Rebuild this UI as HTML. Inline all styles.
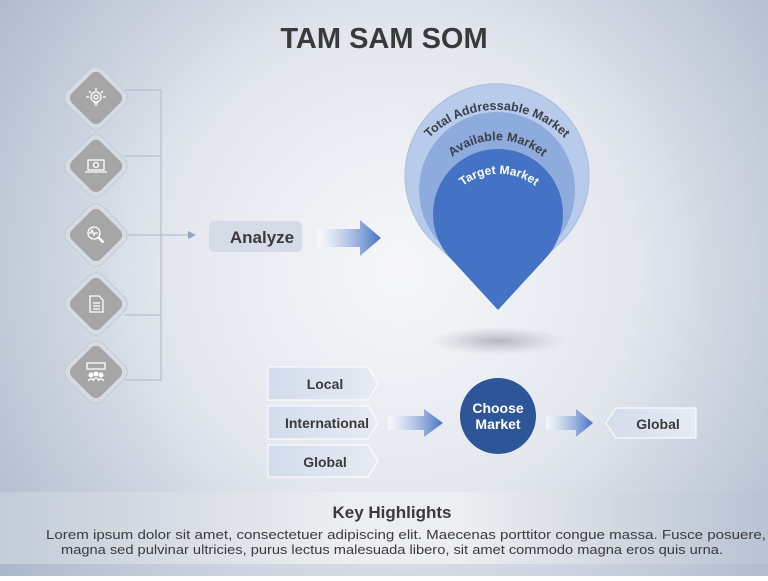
<!DOCTYPE html>
<html><head><meta charset="utf-8"><style>
html,body{margin:0;padding:0}
body{width:768px;height:576px;overflow:hidden;font-family:"Liberation Sans",sans-serif}
</style></head><body>
<svg width="768" height="576" viewBox="0 0 768 576" xmlns="http://www.w3.org/2000/svg" font-family="Liberation Sans, sans-serif">
<defs>
<radialGradient id="bg" cx="400" cy="270" r="520" gradientUnits="userSpaceOnUse">
<stop offset="0" stop-color="#f6f7f9"/><stop offset="0.45" stop-color="#e3e7ee"/><stop offset="1" stop-color="#a8b4c8"/>
</radialGradient>
<linearGradient id="band" x1="0" x2="1" y1="0" y2="0">
<stop offset="0" stop-color="#c3ccd9"/><stop offset="0.45" stop-color="#eceef1"/><stop offset="0.6" stop-color="#eceef1"/><stop offset="1" stop-color="#b9c3d3"/>
</linearGradient>
<linearGradient id="arr" x1="0" x2="1"><stop offset="0" stop-color="#ffffff" stop-opacity="0.6"/><stop offset="1" stop-color="#4472c4"/></linearGradient>
<linearGradient id="tag" x1="0" x2="1"><stop offset="0" stop-color="#d3dcec"/><stop offset="1" stop-color="#e6ebf3"/></linearGradient>
<radialGradient id="sh"><stop offset="0" stop-color="#9aa0a8" stop-opacity="0.7"/><stop offset="1" stop-color="#b0b5bb" stop-opacity="0"/></radialGradient>
<path id="p1" d="M418,152 A95,95 0 0 1 576,152"/>
<path id="p2" d="M445,164 A70,70 0 0 1 550,164"/>
<path id="p3" d="M455,193 A60,60 0 0 1 543,193"/>
<g id="dia">
<rect x="-25" y="-25" width="50" height="50" rx="10" transform="rotate(45)" fill="#d6dce5" stroke="#c2cad6" stroke-width="1"/>
<rect x="-20.5" y="-20.5" width="41" height="41" rx="7" transform="rotate(45)" fill="#a6a6a6"/>
</g>
</defs>
<rect width="768" height="576" fill="url(#bg)"/>
<rect x="0" y="492" width="768" height="72" fill="url(#band)"/>
<text x="384" y="48" text-anchor="middle" font-size="29" font-weight="bold" fill="#3a3a3a">TAM SAM SOM</text>

<g stroke="#b4bfd0" stroke-width="1.2" fill="none">
<path d="M125,90 H161 V380 H125"/>
<path d="M125,156 H161"/><path d="M125,315 H161"/>
<path d="M125,235 H190"/>
</g>
<path d="M188,231 L196,235 L188,239 Z" fill="#8fa3c2"/>
<use href="#dia" x="96" y="98"/>
<use href="#dia" x="96" y="166"/>
<use href="#dia" x="96" y="235"/>
<use href="#dia" x="96" y="304"/>
<use href="#dia" x="96" y="372"/>
<g stroke="#fff" stroke-width="1.3" fill="none">
<circle cx="96" cy="97" r="5"/><circle cx="96" cy="97" r="2"/><path d="M94,103 h4 M94.5,105 h3 M86,97 h3 M103,97 h3 M96,88 v3 M89,91 l2,2 M103,91 l-2,2"/>
<rect x="88" y="160" width="16" height="10"/><path d="M85,172 h22"/><circle cx="96" cy="165" r="2.5"/>
<circle cx="94" cy="233" r="6"/><path d="M98.5,237.5 l5,5" stroke-width="2.5"/><path d="M89,233 h2 l1,-3 l2,5 l1,-2 h3"/>
<path d="M90,296 h9 l4,4 v12 h-13 z M93,303 h7 M93,306 h7 M93,309 h7"/>
<rect x="87" y="363" width="18" height="6"/><circle cx="91" cy="375" r="1.8" fill="#fff"/><circle cx="96" cy="374" r="1.8" fill="#fff"/><circle cx="101" cy="375" r="1.8" fill="#fff"/><path d="M88,381 q3,-4 6,0 M93,380 q3,-4 6,0 M98,381 q3,-4 6,0"/>
</g>

<rect x="209" y="221" width="93" height="31" rx="5" fill="#d5dce8"/>
<text x="262" y="243" text-anchor="middle" font-size="17" font-weight="bold" fill="#3a3a3a">Analyze</text>
<path d="M317,229 H360 V220 L381,238 L360,256 V247 H317 Z" fill="url(#arr)"/>

<ellipse cx="498" cy="341" rx="68" ry="14" fill="url(#sh)"/>
<path d="M433.1,240 A92,92 0 1 1 560.9,240 L498,300 Z" fill="#b9cbea" stroke="#a9bde0" transform="translate(0,2)"/>
<path d="M438.9,242 A78,78 0 1 1 555.1,242 L498,305 Z" fill="#8eabdd"/>
<path d="M450.2,258 A65,65 0 1 1 545.8,258 L498,310 Z" fill="#4472c4"/>
<text font-size="12.5" font-weight="bold" fill="#3a3f4a"><textPath href="#p1" startOffset="50%" text-anchor="middle">Total Addressable Market</textPath></text>
<text font-size="12.5" font-weight="bold" fill="#3a3f4a"><textPath href="#p2" startOffset="50%" text-anchor="middle">Available Market</textPath></text>
<text font-size="12" font-weight="bold" fill="#fff"><textPath href="#p3" startOffset="50%" text-anchor="middle">Target  Market</textPath></text>

<g font-size="14" font-weight="bold" fill="#3a3a3a" text-anchor="middle">
<path d="M268,367 H368 L378,383.5 L368,400 H268 Z" fill="url(#tag)" stroke="#fff"/>
<text x="325" y="389">Local</text>
<path d="M268,406 H368 L378,422.5 L368,439 H268 Z" fill="url(#tag)" stroke="#fff"/>
<text x="327" y="428">International</text>
<path d="M268,445 H368 L378,461 L368,477 H268 Z" fill="url(#tag)" stroke="#fff"/>
<text x="325" y="467">Global</text>
<path d="M616,408 H696 V438 H616 L606,423 Z" fill="url(#tag)" stroke="#fff"/>
<text x="658" y="429">Global</text>
</g>
<path d="M388,416 H424 V409 L443,423 L424,437 V430 H388 Z" fill="url(#arr)"/>
<path d="M546,416 H576 V409 L593,423 L576,437 V430 H546 Z" fill="url(#arr)"/>
<circle cx="498" cy="416" r="38" fill="#2e5597"/>
<text x="498" y="413" text-anchor="middle" font-size="14" font-weight="bold" fill="#fff">Choose</text>
<text x="498" y="429" text-anchor="middle" font-size="14" font-weight="bold" fill="#fff">Market</text>

<text x="392" y="518" text-anchor="middle" font-size="17" font-weight="bold" fill="#3a3a3a">Key Highlights</text>
<text x="406" y="539" text-anchor="middle" font-size="13" fill="#3a3a3a" textLength="720" lengthAdjust="spacingAndGlyphs">Lorem ipsum dolor sit amet, consectetuer adipiscing elit. Maecenas porttitor congue massa. Fusce posuere,</text>
<text x="392" y="554" text-anchor="middle" font-size="13" fill="#3a3a3a" textLength="662" lengthAdjust="spacingAndGlyphs">magna sed pulvinar ultricies, purus lectus malesuada libero, sit amet commodo magna eros quis urna.</text>
</svg>
</body></html>
